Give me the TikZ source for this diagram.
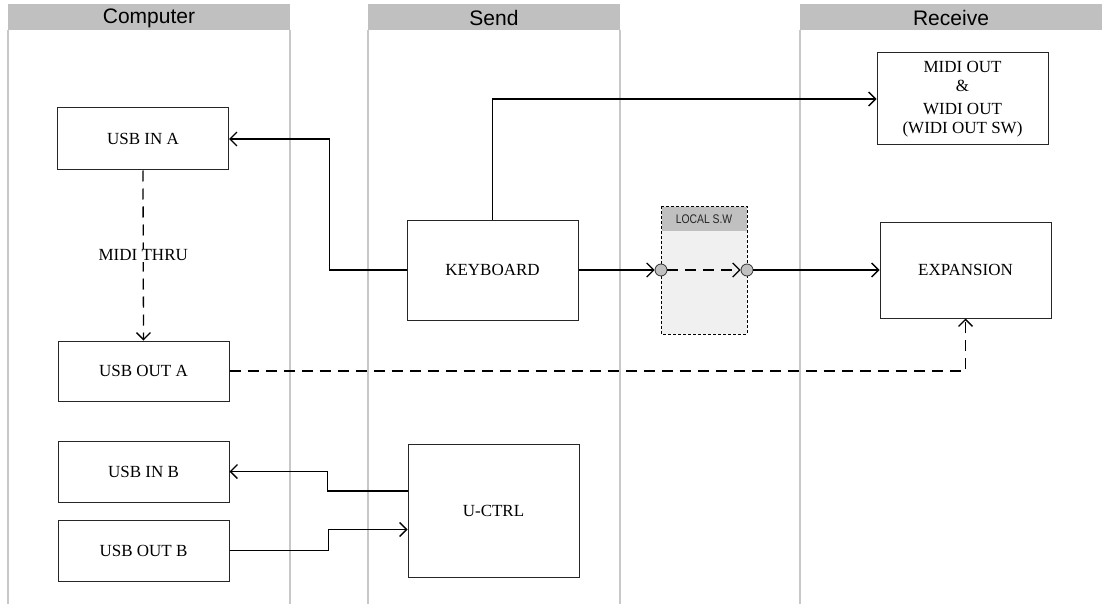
\documentclass[tikz,border=0pt]{standalone}
\usepackage{fontspec}
\setmainfont{Liberation Serif}
\newfontfamily\hdrfont{Liberation Sans}
\newfontfamily\narrowfont[FakeStretch=0.83]{Liberation Sans}
\usetikzlibrary{arrows.meta,calc}
\definecolor{lanegray}{HTML}{C8C8C8}
\definecolor{hdrgray}{HTML}{C0C0C0}
\definecolor{swfill}{HTML}{F0F0F0}
\begin{document}
\begin{tikzpicture}[x=1pt,y=-1pt,
  laneline/.style={draw=lanegray,line width=1.3pt},
  blk/.style={draw=black!85,line width=1pt,minimum width=171pt,inner sep=0pt,align=center,
    font=\fontsize{17}{20}\selectfont},
  conn/.style={draw=black,line width=1.3pt,-{Straight Barb[length=7pt,width=14pt,line width=1.3pt]}},
  dconn/.style={conn,dash pattern=on 11pt off 7pt},
  port/.style={circle,fill=hdrgray,draw=black!80,line width=0.8pt,minimum size=12pt,inner sep=0pt}
]
\useasboundingbox (0,0) rectangle (1102,604);
\fill[white] (0,0) rectangle (1102,604);
% lanes
\fill[hdrgray] (8,4) rectangle (290,30);
\fill[hdrgray] (368,4) rectangle (620,30);
\fill[hdrgray] (800,4) rectangle (1102,30);
\node[font=\hdrfont\fontsize{21}{24}\selectfont] (hcomp) at (149,18) {Computer};
\node[font=\hdrfont\fontsize{21}{24}\selectfont] (hsend) at (494,18) {Send};
\node[font=\hdrfont\fontsize{21}{24}\selectfont] (hrecv) at (951,18) {Receive};
\draw[laneline] (8,30) -- (8,604);
\draw[laneline] (290,30) -- (290,604);
\draw[laneline] (368,30) -- (368,604);
\draw[laneline] (620,30) -- (620,604);
\draw[laneline] (800,30) -- (800,604);
% local switch
\draw[draw=black,line width=0.9pt,dash pattern=on 3pt off 2pt,fill=swfill] (661,206) rectangle (747,334);
\fill[hdrgray] (661.5,206.5) rectangle (746.5,231);
\node[font=\narrowfont\fontsize{12.5}{14}\selectfont,text=black!85] (lsw) at (704,219) {LOCAL S.W};
% boxes
\node[blk,minimum height=62pt] (usbina) at (143,139) {USB IN A};
\node[blk,minimum height=60pt] (usbouta) at (143.5,371) {USB OUT A};
\node[blk,minimum height=61pt] (usbinb) at (143.5,471.5) {USB IN B};
\node[blk,minimum height=61pt] (usboutb) at (143.5,550.5) {USB OUT B};
\node[blk,minimum height=100pt] (keyboard) at (492.5,270) {KEYBOARD};
\node[blk,minimum height=133pt] (uctrl) at (493.5,510.5) {U-CTRL};
\node[blk,minimum height=92pt,font=\fontsize{17}{18.5}\selectfont] (midiout) at (962.5,99) {MIDI OUT\\\&\\[5pt]WIDI OUT\\(WIDI OUT SW)};
\node[blk,minimum height=96pt] (expansion) at (965.5,270) {EXPANSION};
% ports
\node[port] (porta) at (661,270) {};
\node[port] (portb) at (747,270) {};
% connectors
\draw[conn] (keyboard.west) -- ++(-77,0) |- (usbina.east);
\draw[conn] (keyboard.north) |- (midiout.west);
\draw[conn] (keyboard.east) -- (porta.west);
\draw[dconn] (porta.east) -- (portb.west);
\draw[conn] (portb.east) -- (expansion.west);
\draw[dconn] (usbina.south) -- (usbouta.north)
  node[pos=0.5,fill=white,inner sep=1pt,font=\fontsize{17}{20}\selectfont] (thru) {MIDI THRU};
\draw[dconn] (usbouta.east) -| (expansion.south);
\coordinate (u1) at ($(uctrl.west)+(0,-19.5)$);
\coordinate (u2) at ($(uctrl.west)+(0,19)$);
\draw[conn] (u1) -- ++(-80,0) |- (usbinb.east);
\draw[conn] (usboutb.east) -- ++(99,0) |- (u2);
\end{tikzpicture}
\end{document}
